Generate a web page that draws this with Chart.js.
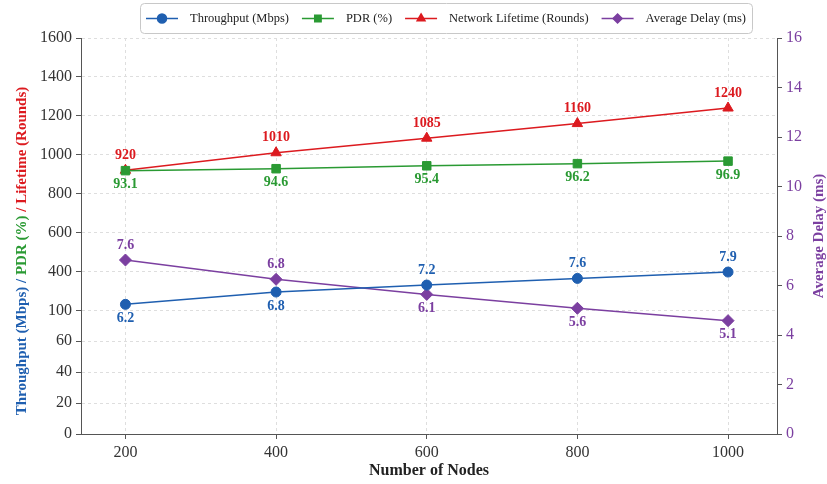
<!DOCTYPE html>
<html>
<head>
<meta charset="utf-8">
<script src="https://cdn.jsdelivr.net/npm/chart.js@4.4.1/dist/chart.umd.min.js"></script>
<style>
  html, body { margin: 0; padding: 0; background: #fff; }
</style>
</head>
<body>
<canvas id="nodesChart" width="827" height="484"></canvas>
<script>
// values
var nodeCounts = [200, 400, 600, 800, 1000];

var throughputPlot = [146, 241, 295, 346, 395];
var throughputText = ['6.2', '6.8', '7.2', '7.6', '7.9'];
var throughputSide = ['below', 'below', 'above', 'above', 'above'];

var pdrPlot = [918, 928, 943, 954, 967];
var pdrText = ['93.1', '94.6', '95.4', '96.2', '96.9'];
var pdrSide = ['below', 'below', 'below', 'below', 'below'];

var lifetimeRounds = [920, 1010, 1085, 1160, 1240];
var lifetimeText = ['920', '1010', '1085', '1160', '1240'];
var lifetimeSide = ['above', 'above', 'above', 'above', 'above'];

var delayPlot = [7.03, 6.25, 5.64, 5.08, 4.58];
var delayText = ['7.6', '6.8', '6.1', '5.6', '5.1'];
var delaySide = ['above', 'above', 'below', 'below', 'below'];

var leftTicks = [0, 20, 40, 60, 100, 400, 600, 800, 1000, 1200, 1400, 1600];
var rightTicks = [0, 2, 4, 6, 8, 10, 12, 14, 16];

var BLUE = '#1f5fb0', GREEN = '#2a9a33', RED = '#dc1a1f', PURPLE = '#7b3fa0';
var SERIF = '"Liberation Serif", "Times New Roman", serif';

// left axis is broken: the low band (0-100) is squeezed, 100-1600 is wider
var SEG_WEIGHT = [31, 31, 31, 31, 39, 39, 39, 39, 39, 39, 39];

class BrokenScale extends Chart.LinearScale {
    determineDataLimits() {
        this.min = leftTicks[0];
        this.max = leftTicks[leftTicks.length - 1];
    }
    buildTicks() {
        return leftTicks.map(function (v) { return { value: v }; });
    }
    toDecimal(v) {
        var total = SEG_WEIGHT.reduce(function (a, b) { return a + b; }, 0);
        var acc = 0;
        for (var i = 0; i < SEG_WEIGHT.length; i++) {
            var lo = leftTicks[i], hi = leftTicks[i + 1];
            if (v <= hi || i === SEG_WEIGHT.length - 1) {
                return (acc + SEG_WEIGHT[i] * (v - lo) / (hi - lo)) / total;
            }
            acc += SEG_WEIGHT[i];
        }
        return 1;
    }
    getPixelForValue(v) {
        return this.getPixelForDecimal(this.toDecimal(v));
    }
    getValueForPixel(p) {
        var d = this.getDecimalForPixel(p);
        var total = SEG_WEIGHT.reduce(function (a, b) { return a + b; }, 0);
        var acc = 0;
        for (var i = 0; i < SEG_WEIGHT.length; i++) {
            var w = SEG_WEIGHT[i] / total;
            if (d <= acc + w || i === SEG_WEIGHT.length - 1) {
                return leftTicks[i] + (d - acc) / w * (leftTicks[i + 1] - leftTicks[i]);
            }
            acc += w;
        }
        return this.max;
    }
}
BrokenScale.id = 'broken';
BrokenScale.defaults = {};
Chart.register(BrokenScale);

function toPoints(values) {
    return nodeCounts.map(function (n, i) { return { x: n, y: values[i] }; });
}

function plainNumber(value) {
    return String(value);
}

function series(label, values, color, style, radius, axis, texts, sides) {
    return {
        label: label,
        data: toPoints(values),
        yAxisID: axis,
        borderColor: color,
        backgroundColor: color,
        borderWidth: 1.5,
        pointStyle: style,
        pointRadius: radius,
        pointBorderWidth: 1,
        pointBackgroundColor: color,
        tension: 0,
        valueText: texts,
        valueSide: sides
    };
}

var valueLabels = {
    id: 'valueLabels',
    afterDatasetsDraw: function (chart) {
        var ctx = chart.ctx;
        ctx.save();
        ctx.font = 'bold 14px ' + SERIF;
        ctx.textAlign = 'center';
        ctx.textBaseline = 'middle';
        chart.data.datasets.forEach(function (ds, i) {
            var meta = chart.getDatasetMeta(i);
            ctx.fillStyle = ds.borderColor;
            meta.data.forEach(function (pt, j) {
                var dy = ds.valueSide[j] === 'above' ? -15 : 14;
                ctx.fillText(ds.valueText[j], pt.x, pt.y + dy);
            });
        });
        ctx.restore();
    }
};

function drawRotated(ctx, x, cy, parts, font) {
    ctx.save();
    ctx.translate(x, cy);
    ctx.rotate(-Math.PI / 2);
    ctx.font = font;
    ctx.textAlign = 'left';
    ctx.textBaseline = 'middle';
    var total = 0;
    parts.forEach(function (p) { total += ctx.measureText(p.text).width; });
    var pos = -total / 2;
    parts.forEach(function (p) {
        ctx.fillStyle = p.color;
        ctx.fillText(p.text, pos, 0);
        pos += ctx.measureText(p.text).width;
    });
    ctx.restore();
}

var axisTitles = {
    id: 'axisTitles',
    afterDraw: function (chart) {
        var ctx = chart.ctx;
        var area = chart.chartArea;
        var font = 'bold 15px ' + SERIF;
        drawRotated(ctx, 22, (area.top + area.bottom) / 2 + 15, [
            { text: 'Throughput (Mbps) / ', color: BLUE },
            { text: 'PDR (%) ', color: GREEN },
            { text: '/ Lifetime (Rounds)', color: RED }
        ], font);
        drawRotated(ctx, 819, (area.top + area.bottom) / 2, [
            { text: 'Average Delay (ms)', color: PURPLE }
        ], font);
    }
};

var boxedLegend = {
    id: 'boxedLegend',
    afterDraw: function (chart) {
        var ctx = chart.ctx;
        var boxL = 140, boxT = 3, boxW = 612, boxH = 30;
        var glyphW = 32, glyphGap = 12, pad = 6;
        ctx.save();
        ctx.strokeStyle = '#c8c8c8';
        ctx.lineWidth = 1;
        ctx.beginPath();
        ctx.roundRect(boxL + 0.5, boxT + 0.5, boxW, boxH, 4);
        ctx.stroke();

        ctx.font = '12.5px ' + SERIF;
        var widths = chart.data.datasets.map(function (ds) { return ctx.measureText(ds.label).width; });
        var used = widths.reduce(function (a, b) { return a + b; }, 0) + widths.length * (glyphW + glyphGap);
        var gap = (boxW - 2 * pad - used) / (widths.length - 1);
        var x = boxL + pad;
        var y = boxT + boxH / 2 + 0.5;
        chart.data.datasets.forEach(function (ds, i) {
            ctx.strokeStyle = ds.borderColor;
            ctx.fillStyle = ds.borderColor;
            ctx.lineWidth = 1.5;
            ctx.beginPath();
            ctx.moveTo(x, y);
            ctx.lineTo(x + glyphW, y);
            ctx.stroke();
            Chart.helpers.drawPoint(ctx, { pointStyle: ds.pointStyle, radius: 4.5, rotation: 0, borderWidth: 1 }, x + glyphW / 2, y);
            ctx.fillStyle = '#222';
            ctx.textAlign = 'left';
            ctx.textBaseline = 'middle';
            ctx.fillText(ds.label, x + glyphW + glyphGap, y);
            x += glyphW + glyphGap + widths[i] + gap;
        });
        ctx.restore();
    }
};

new Chart(document.getElementById('nodesChart'), {
    type: 'line',
    data: {
        datasets: [
            series('Throughput (Mbps)', throughputPlot, BLUE, 'circle', 5, 'y', throughputText, throughputSide),
            series('PDR (%)', pdrPlot, GREEN, 'rect', 6, 'y', pdrText, pdrSide),
            series('Network Lifetime (Rounds)', lifetimeRounds, RED, 'triangle', 6, 'y', lifetimeText, lifetimeSide),
            series('Average Delay (ms)', delayPlot, PURPLE, 'rectRot', 6, 'y1', delayText, delaySide)
        ]
    },
    options: {
        responsive: false,
        animation: false,
        layout: { padding: { top: 38, left: 0, right: 0, bottom: 0 } },
        plugins: {
            legend: { display: false },
            tooltip: { enabled: false }
        },
        scales: {
            x: {
                type: 'linear',
                min: 141,
                max: 1065,
                afterBuildTicks: function (s) {
                    s.ticks = nodeCounts.map(function (v) { return { value: v }; });
                },
                afterFit: function (s) { s.height = 50; },
                grid: { color: '#dedede', tickColor: '#555', tickLength: 5, tickBorderDash: [] },
                border: { color: '#555', width: 1, dash: [3, 3] },
                ticks: { color: '#333', font: { family: SERIF, size: 16 }, padding: 4, maxRotation: 0, callback: plainNumber },
                title: { display: true, text: 'Number of Nodes', color: '#222', font: { family: SERIF, size: 16, weight: 'bold' } }
            },
            y: {
                type: 'broken',
                position: 'left',
                afterFit: function (s) { s.width = 81; },
                grid: { color: '#dedede', tickColor: '#555', tickLength: 5, tickBorderDash: [] },
                border: { color: '#555', width: 1, dash: [3, 3] },
                ticks: { color: '#333', font: { family: SERIF, size: 16 }, padding: 4, autoSkip: false, callback: plainNumber }
            },
            y1: {
                type: 'linear',
                position: 'right',
                min: 0,
                max: 16,
                afterBuildTicks: function (s) {
                    s.ticks = rightTicks.map(function (v) { return { value: v }; });
                },
                afterFit: function (s) { s.width = 50; },
                grid: { drawOnChartArea: false, tickColor: '#555', tickLength: 5 },
                border: { color: '#555', width: 1 },
                ticks: { color: PURPLE, font: { family: SERIF, size: 16 }, padding: 4, callback: plainNumber }
            }
        }
    },
    plugins: [valueLabels, axisTitles, boxedLegend]
});
</script>
</body>
</html>
